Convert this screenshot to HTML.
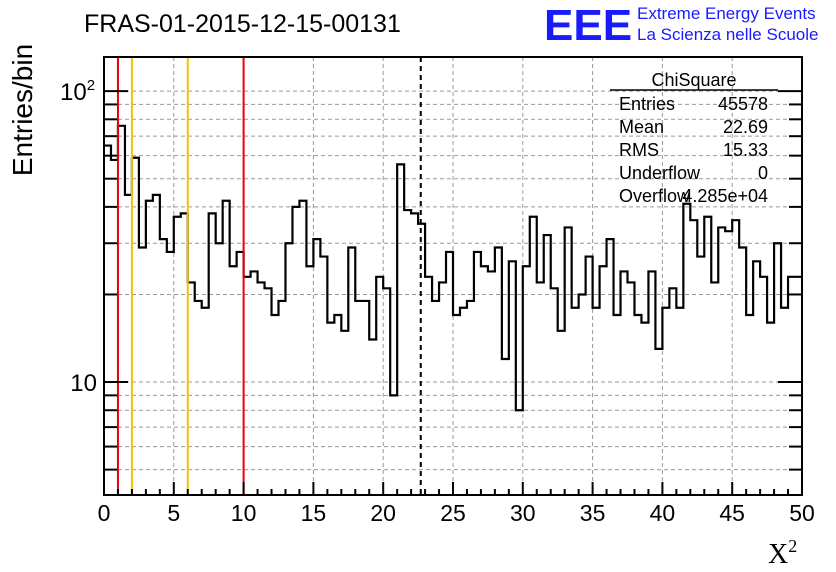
<!DOCTYPE html>
<html><head><meta charset="utf-8"><style>
html,body{margin:0;padding:0;background:#fff;}
svg{display:block;font-family:"Liberation Sans",sans-serif;}
</style></head><body>
<svg id="chart" width="836" height="572" viewBox="0 0 836 572" xmlns="http://www.w3.org/2000/svg">
<rect x="0" y="0" width="836" height="572" fill="#fff"/>
<g id="grid"></g>
<g id="hist"></g>
<g id="markers"></g>
<g id="axes"></g>
<text x="84" y="32" font-size="25">FRAS-01-2015-12-15-00131</text>
<text x="544" y="40" font-size="44" font-weight="bold" fill="#1a1aff">EEE</text>
<text x="637" y="19" font-size="17" fill="#1a1aff">Extreme Energy Events</text>
<text x="637" y="40" font-size="17" fill="#1a1aff">La Scienza nelle Scuole</text>
<text transform="translate(32,110) rotate(-90)" text-anchor="middle" font-size="28">Entries/bin</text>
<text x="768" y="563" font-size="28" font-family="Liberation Serif,serif">X<tspan font-size="18" dy="-11">2</tspan></text>
<g>
<text x="694" y="86" font-size="18" text-anchor="middle">ChiSquare</text>
<line x1="610" y1="90" x2="778" y2="90" stroke="#000" stroke-width="1.5"/>
<g font-size="18">
<text x="619" y="110">Entries</text><text x="768" y="110" text-anchor="end">45578</text>
<text x="619" y="133">Mean</text><text x="768" y="133" text-anchor="end">22.69</text>
<text x="619" y="156">RMS</text><text x="768" y="156" text-anchor="end">15.33</text>
<text x="619" y="179">Underflow</text><text x="768" y="179" text-anchor="end">0</text>
<text x="619" y="202">Overflow</text><text x="768" y="202" text-anchor="end">4.285e+04</text>
</g></g>
</svg>
<script>
const binCounts=[65,58,76,44,59,29,42,44,31,28,37,38,22,19,18,38,30,42,25,28,23,24,22,21,17,19,30,40,42,25,31,27,16,17,15,29,19,19,14,23,21,9,56,39,38,35,23,19,22,28,17,18,19,28,25,24,29,12,26,8,25,37,22,32,21,15,34,18,20,27,18,25,31,17,24,22,17,16,24,13,18,21,18,41,36,27,37,22,34,33,36,29,17,26,23,16,30,18,23,23];
const xTicks=[0,5,10,15,20,25,30,35,40,45,50];
const yGridVals=[5,6,7,8,9,10,20,30,40,50,60,70,80,90,100];
const redLines=[1,10];
const orangeLines=[2,6];
const meanLine=[22.69];
const xMin=0,xMax=50,yMin=4.09,yMax=131;
const L=104,R=802,T=57,B=495;
const NS="http://www.w3.org/2000/svg";
function X(v){return L+(v-xMin)/(xMax-xMin)*(R-L);}
function Y(v){return B-(Math.log10(v)-Math.log10(yMin))/(Math.log10(yMax)-Math.log10(yMin))*(B-T);}
function mk(tag,attrs,parent){const e=document.createElementNS(NS,tag);for(const k in attrs)e.setAttribute(k,attrs[k]);parent.appendChild(e);return e;}
const grid=document.getElementById('grid'),hist=document.getElementById('hist'),mk2=document.getElementById('markers'),axes=document.getElementById('axes');
xTicks.forEach(t=>{if(t>xMin&&t<xMax){const l=mk('line',{x1:X(t),x2:X(t),y1:T,y2:B,stroke:'#999','stroke-dasharray':'4,3','stroke-width':1},grid);

}});
yGridVals.forEach(v=>{const l=mk('line',{x1:L,x2:R,y1:Y(v),y2:Y(v),stroke:'#999','stroke-dasharray':'4,3','stroke-width':1},grid);

});
const bw=(xMax-xMin)/binCounts.length;
let d='M'+X(xMin)+','+Y(binCounts[0]);
binCounts.forEach((c,i)=>{const y=Y(c);d+=' L'+X(xMin+i*bw)+','+y+' L'+X(xMin+(i+1)*bw)+','+y;});
const p=mk('path',{d:d,fill:'none',stroke:'#000','stroke-width':2.2},hist);


function vline(v,col,dash,name){const l=mk('line',{x1:X(v),x2:X(v),y1:T,y2:B,stroke:col,'stroke-width':2},mk2);if(dash)l.setAttribute('stroke-dasharray',dash);

}
redLines.forEach(v=>vline(v,'#e8000b',null,'red-cut-line'));
orangeLines.forEach(v=>vline(v,'#f5c400',null,'orange-cut-line'));
meanLine.forEach(v=>vline(v,'#000','5,4','mean-line'));
const fr=mk('rect',{x:L,y:T,width:R-L,height:B-T,fill:'none',stroke:'#000','stroke-width':2},axes);


for(let v=xMin;v<=xMax;v+=1){const major=v%5===0;const l=mk('line',{x1:X(v),x2:X(v),y1:B,y2:B-(major?13:6),stroke:'#000','stroke-width':2},axes);

}
xTicks.forEach(t=>{const tx=mk('text',{x:X(t),y:521,'font-size':23,'text-anchor':'middle'},axes);tx.textContent=t;

});
yGridVals.forEach(v=>{const major=(v===10||v===100);[[L,1],[R,-1]].forEach(([x0,s])=>{const l=mk('line',{x1:x0,x2:x0+s*(major?24:13),y1:Y(v),y2:Y(v),stroke:'#000','stroke-width':2},axes);

});});
const t10=mk('text',{x:97,y:Y(10)+9,'font-size':24,'text-anchor':'end'},axes);t10.textContent='10';


const t100=mk('text',{x:60,y:Y(100)+9,'font-size':24},axes);t100.innerHTML='10<tspan font-size="15" dy="-10">2</tspan>';


</script>
</body></html>
